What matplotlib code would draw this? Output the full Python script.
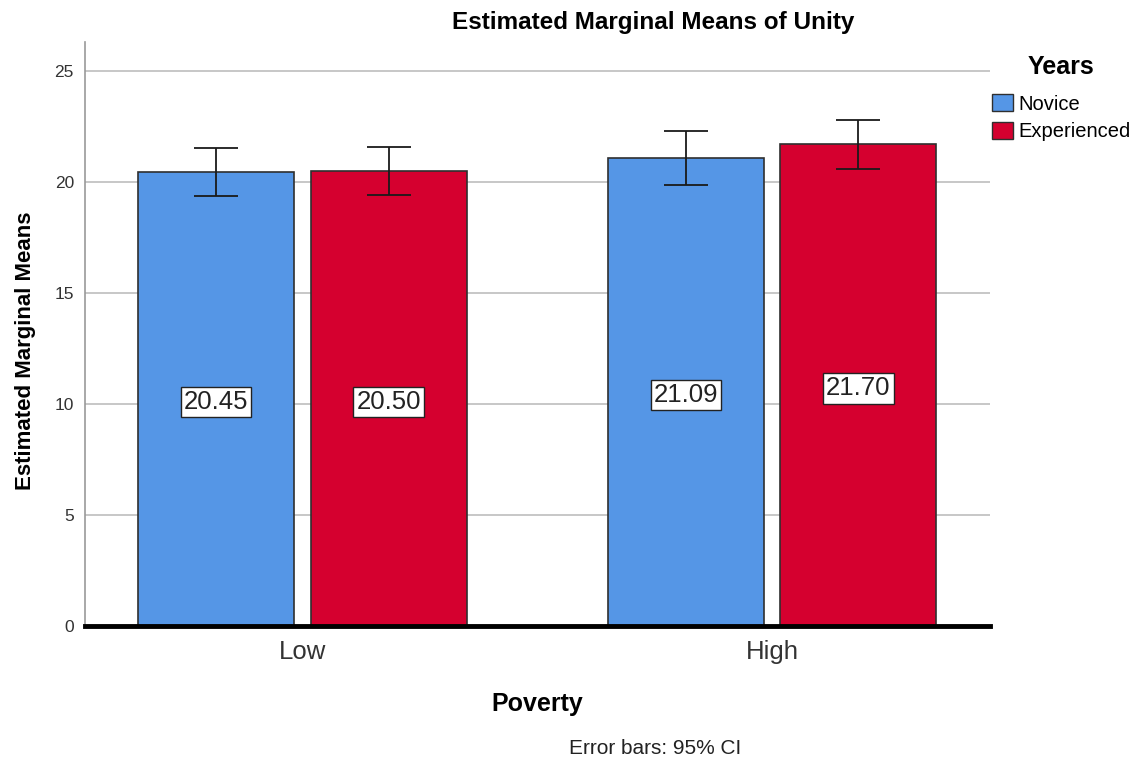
import matplotlib
matplotlib.use("Agg")
import matplotlib.pyplot as plt
from matplotlib.patches import Patch

# Data
poverty = ["Low", "High"]
years = ["Novice", "Experienced"]
means = {
    "Novice": [20.45, 21.09],
    "Experienced": [20.50, 21.70],
}
ci_low = {
    "Novice": [19.37, 19.86],
    "Experienced": [19.41, 20.59],
}
ci_high = {
    "Novice": [21.53, 22.30],
    "Experienced": [21.58, 22.79],
}
colors = {"Novice": "#5596E6", "Experienced": "#D5002F"}

plt.rcParams["font.family"] = ["Liberation Sans", "DejaVu Sans"]

fig = plt.figure(figsize=(11.37, 7.59), dpi=100)
W, H = 1137, 759
ax = fig.add_axes([85 / W, 1 - 626 / H, (990 - 85) / W, (626 - 42) / H])

ymax = (626 - 42) / 22.2
ax.set_ylim(0, ymax)
ax.set_xlim(-0.462, 1.464)

width = 0.332
offsets = {"Novice": -0.183, "Experienced": 0.184}

ax.set_yticks([0, 5, 10, 15, 20, 25])
ax.yaxis.grid(True, color="#bdbdbd", linewidth=1.2, zorder=0)
ax.set_axisbelow(True)

for yr in years:
    for i, cat in enumerate(poverty):
        x = i + offsets[yr]
        m = means[yr][i]
        ax.bar(x, m, width=width, color=colors[yr], edgecolor="#2f2f2f",
               linewidth=1.2, zorder=2)
        lo, hi = ci_low[yr][i], ci_high[yr][i]
        ax.errorbar(x, m, yerr=[[m - lo], [hi - m]], fmt="none",
                    ecolor="#1a1a1a", elinewidth=1.3, capsize=16,
                    capthick=1.3, zorder=3)
        ax.text(x, m / 2 - 0.15, f"{m:.2f}", ha="center", va="center",
                fontsize=18.5, color="#222222", zorder=4,
                bbox=dict(boxstyle="square,pad=0.12", facecolor="white",
                          edgecolor="#222222", linewidth=1))

ax.set_xticks([0, 1])
ax.set_xticklabels(poverty, fontsize=18.5, color="#333333")
ax.tick_params(axis="x", length=0, pad=10)
ax.tick_params(axis="y", length=0, labelsize=12.5, labelcolor="#333333", pad=8)

for s in ["top", "right"]:
    ax.spines[s].set_visible(False)
ax.spines["left"].set_color("#999999")
ax.spines["left"].set_linewidth(1.2)
ax.spines["bottom"].set_color("black")
ax.spines["bottom"].set_linewidth(3.5)
ax.spines["bottom"].set_zorder(5)

ax.set_xlabel("Poverty", fontsize=18, fontweight="bold", labelpad=20)
ax.set_ylabel("Estimated Marginal Means", fontsize=16, fontweight="bold")
ax.yaxis.set_label_coords(-0.054, 0.471)

fig.text(653 / W, 1 - 22 / H, "Estimated Marginal Means of Unity",
         ha="center", va="center", fontsize=17.5, fontweight="bold")
fig.text(655 / W, 1 - 748 / H, "Error bars: 95% CI", ha="center",
         va="center", fontsize=15, color="#222222")

# Legend title drawn separately, centred over the entries
fig.text(1061 / W, 1 - 67 / H, "Years", ha="center", va="center",
         fontsize=18, fontweight="bold")
handles = [Patch(facecolor=colors[y], edgecolor="#2f2f2f", label=y) for y in years]
leg = fig.legend(handles=handles, loc="upper left",
                 bbox_to_anchor=(992 / W, 1 - 94 / H), frameon=False,
                 fontsize=14.5,
                 handlelength=1.05, handleheight=0.95, handletextpad=0.25,
                 labelspacing=0.4, borderaxespad=0, borderpad=0)

fig.savefig("out.png", dpi=100, facecolor="white")
